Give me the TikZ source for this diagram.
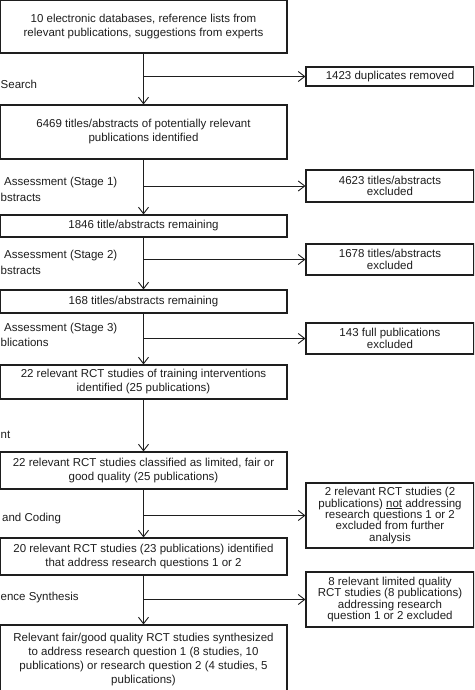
\documentclass[tikz,border=0pt]{standalone}
\usepackage{fontspec}
\setmainfont{Liberation Sans}
\usetikzlibrary{arrows.meta}
\definecolor{ink}{HTML}{1E1E1E}
\tikzset{
  box/.style={draw=ink, line width=1.1pt, inner sep=0pt, align=center, text=ink},
  lbox/.style={box, minimum width=287pt, minimum height=#1, font=\fontsize{11.5}{14}\selectfont},
  rbox/.style={box, minimum width=168pt, minimum height=#1, font=\fontsize{11.5}{11.3}\selectfont},
  lab/.style={anchor=west, inner sep=0pt, text=ink, font=\fontsize{11.5}{14}\selectfont},
  arr/.style={draw=ink, line width=0.9pt, -{Straight Barb[length=6.5pt,width=10pt,line width=0.9pt]}}
}
\begin{document}
\begin{tikzpicture}[x=1pt,y=-1pt]
\useasboundingbox (0,0) rectangle (474,690);
\fill[white] (0,0) rectangle (474,690);
\clip (0,0) rectangle (474,690);
% left column
\node[lbox=53pt] (b1) at (143.5,26.5) {10 electronic databases, reference lists from\\relevant publications, suggestions from experts};
\node[lbox=54pt] (b2) at (143.5,132) {6469 titles/abstracts of potentially relevant\\publications identified};
\node[lbox=22pt] (b3) at (143.5,226) {1846 title/abstracts remaining};
\node[lbox=23pt] (b4) at (143.5,301.5) {168 titles/abstracts remaining};
\node[lbox=34pt] (b5) at (143.5,382) {22 relevant RCT studies of training interventions\\identified (25 publications)};
\node[lbox=37pt] (b6) at (143.5,470.5) {22 relevant RCT studies classified as limited, fair or\\good quality (25 publications)};
\node[lbox=37pt] (b7) at (143.5,556.5) {20 relevant RCT studies (23 publications) identified\\that address research questions 1 or 2};
\node[lbox=69pt] (b8) at (143.5,659.5) {Relevant fair/good quality RCT studies synthesized\\to address research question 1 (8 studies, 10\\publications) or research question 2 (4 studies, 5\\publications)};
% right column
\node[rbox=19pt] (r1) at (390,76.5) {1423 duplicates removed};
\node[rbox=32pt] (r2) at (390,186) {4623 titles/abstracts\\excluded};
\node[rbox=31pt] (r3) at (390,259.5) {1678 titles/abstracts\\excluded};
\node[rbox=31pt] (r4) at (390,338.5) {143 full publications\\excluded};
\node[rbox=65pt] (r5) at (390,515.5) {2 relevant RCT studies (2\\publications) \underline{not} addressing\\research questions 1 or 2\\excluded from further\\analysis};
\node[rbox=55pt] (r6) at (390,599.5) {8 relevant limited quality\\RCT studies (8 publications)\\addressing research\\question 1 or 2 excluded};
% side labels (cropped in the original)
\node[lab] (l1) at (0.5,84) {Search};
\node[lab] (l2a) at (4,183) {Assessment (Stage 1)};
\node[lab] (l2b) at (0.5,197) {bstracts};
\node[lab] (l3a) at (4,256) {Assessment (Stage 2)};
\node[lab] (l3b) at (0.5,270) {bstracts};
\node[lab] (l4a) at (4,329) {Assessment (Stage 3)};
\node[lab] (l4b) at (0.5,342) {blications};
\node[lab] (l5) at (0.5,435) {nt};
\node[lab] (l6) at (2,519) {and Coding};
\node[lab] (l7) at (0.5,598) {ence Synthesis};
% vertical flow
\draw[arr] (b1.south) -- (b2.north);
\draw[arr] (b2.south) -- (b3.north);
\draw[arr] (b3.south) -- (b4.north);
\draw[arr] (b4.south) -- (b5.north);
\draw[arr] (b5.south) -- (b6.north);
\draw[arr] (b6.south) -- (b7.north);
\draw[arr] (b7.south) -- (b8.north);
% exclusions
\draw[arr] (b1.south |- r1.west) -- (r1.west);
\draw[arr] (b2.south |- r2.west) -- (r2.west);
\draw[arr] (b3.south |- r3.west) -- (r3.west);
\draw[arr] (b4.south |- r4.west) -- (r4.west);
\draw[arr] (b6.south |- r5.west) -- (r5.west);
\draw[arr] (b7.south |- r6.west) -- (r6.west);
\end{tikzpicture}
\end{document}
